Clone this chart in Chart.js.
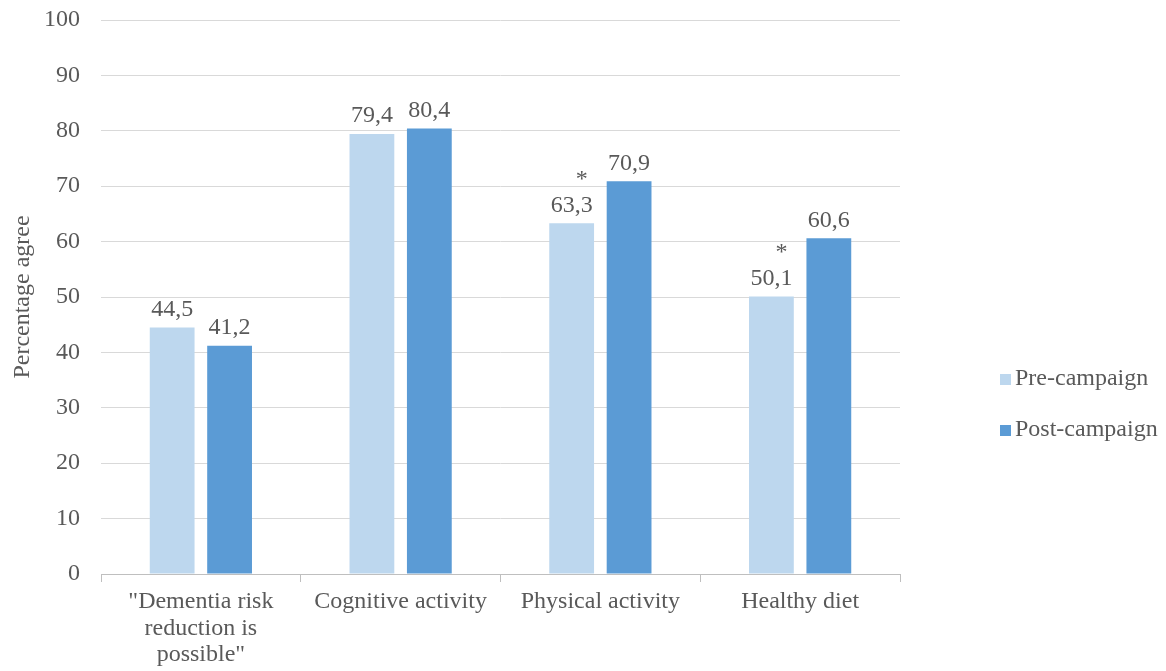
<!DOCTYPE html>
<html>
<head>
<meta charset="utf-8">
<script src="https://cdn.jsdelivr.net/npm/chart.js@4/dist/chart.umd.min.js"></script>
<style>
  html, body { margin: 0; padding: 0; background: #ffffff; }
  #wrap { width: 1166px; height: 671px; position: relative; }
</style>
</head>
<body>
<div id="wrap"><canvas id="chart" width="1166" height="671"></canvas></div>
<script>
// Share of respondents agreeing, before and after the campaign
const categories = [
  ['"Dementia risk', 'reduction is', 'possible"'],
  'Cognitive activity',
  'Physical activity',
  'Healthy diet'
];
const preCampaign = [44.5, 79.4, 63.3, 50.1];
const postCampaign = [41.2, 80.4, 70.9, 60.6];
// Significant change between pre and post (marked with an asterisk)
const significant = [false, false, true, true];
const yTicks = [0, 10, 20, 30, 40, 50, 60, 70, 80, 90, 100];

const TEXT = '#595959';
const FONT = '"Liberation Serif", "Times New Roman", serif';

const fmt = v => v.toFixed(1).replace('.', ',');

// Value labels above each bar, plus significance asterisks
const valueLabels = {
  id: 'valueLabels',
  afterDatasetsDraw(chart) {
    const ctx = chart.ctx;
    ctx.save();
    ctx.fillStyle = TEXT;
    ctx.font = '24px ' + FONT;
    ctx.textAlign = 'center';
    ctx.textBaseline = 'bottom';
    chart.data.datasets.forEach((ds, di) => {
      const meta = chart.getDatasetMeta(di);
      meta.data.forEach((bar, i) => {
        ctx.fillText(fmt(ds.data[i]), bar.x, bar.y - 6);
        if (di === 0 && significant[i]) {
          ctx.fillText('*', bar.x + 10, bar.y - 32);
        }
      });
    });
    ctx.restore();
  }
};

// Legend drawn to the right of the plot
const sideLegend = {
  id: 'sideLegend',
  afterDraw(chart) {
    const ctx = chart.ctx;
    ctx.save();
    ctx.font = '24px ' + FONT;
    ctx.textBaseline = 'middle';
    ctx.textAlign = 'left';
    const x = 1000, y0 = 379, step = 51;
    chart.data.datasets.forEach((ds, i) => {
      const y = y0 + i * step;
      ctx.fillStyle = ds.backgroundColor;
      ctx.fillRect(x, y - 5, 11, 11);
      ctx.fillStyle = TEXT;
      ctx.fillText(ds.label, x + 15, y);
    });
    ctx.restore();
  }
};

new Chart(document.getElementById('chart'), {
  type: 'bar',
  data: {
    labels: categories,
    datasets: [
      { label: 'Pre-campaign', data: preCampaign, backgroundColor: '#bdd7ee',
        categoryPercentage: 0.575, barPercentage: 0.78 },
      { label: 'Post-campaign', data: postCampaign, backgroundColor: '#5b9bd5',
        categoryPercentage: 0.575, barPercentage: 0.78 }
    ]
  },
  options: {
    responsive: false,
    animation: false,
    devicePixelRatio: 1,
    layout: { padding: { top: 20, right: 266, bottom: 0, left: 0 } },
    plugins: {
      legend: { display: false },
      tooltip: { enabled: false }
    },
    scales: {
      x: {
        grid: {
          display: true,
          offset: true,
          drawOnChartArea: false,
          drawTicks: true,
          tickLength: 8,
          color: '#bfbfbf'
        },
        border: { display: true, color: '#bfbfbf', width: 1 },
        ticks: {
          color: TEXT,
          font: { family: FONT, size: 24, lineHeight: 1.12 },
          padding: 6,
          maxRotation: 0,
          autoSkip: false
        },
        afterFit(scale) { scale.height = 97; }
      },
      y: {
        min: 0,
        max: 100,
        afterBuildTicks(scale) { scale.ticks = yTicks.map(v => ({ value: v })); },
        grid: { color: '#d9d9d9', lineWidth: 1, drawTicks: true, tickLength: 18, tickColor: 'rgba(0,0,0,0)' },
        border: { display: false },
        ticks: {
          color: TEXT,
          font: { family: FONT, size: 24 },
          padding: 3
        },
        title: {
          display: true,
          text: 'Percentage agree',
          color: TEXT,
          font: { family: FONT, size: 24 },
          padding: { top: 8, bottom: 0 }
        },
        afterFit(scale) { scale.width = 101; }
      }
    }
  },
  plugins: [valueLabels, sideLegend]
});
</script>
</body>
</html>
